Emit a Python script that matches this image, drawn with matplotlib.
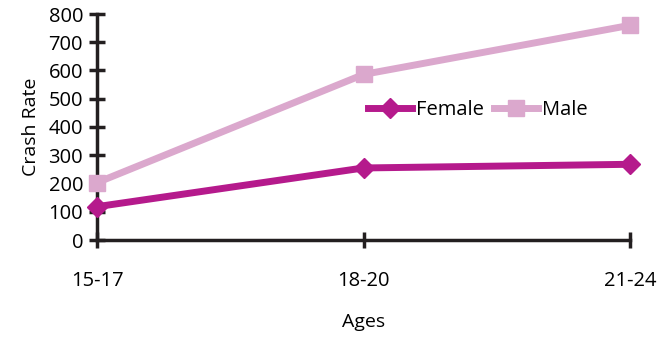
import matplotlib
matplotlib.use("Agg")
import matplotlib.pyplot as plt

ages = ["15-17", "18-20", "21-24"]
female = [118, 255, 268]
male = [203, 586, 760]
yticks = [0, 100, 200, 300, 400, 500, 600, 700, 800]

plt.rcParams['font.family'] = ['Open Sans', 'DejaVu Sans']

fig = plt.figure(figsize=(6.59, 3.43), dpi=100)
ax = fig.add_axes([97 / 659, 103 / 343, 533 / 659, 226 / 343])

x = list(range(len(ages)))
ax.plot(x, female, color="#B51A8C", lw=5, marker="D", ms=10, label="Female", clip_on=False, zorder=4)
ax.plot(x, male, color="#DBA8CD", lw=5, marker="s", ms=12, label="Male", clip_on=False, zorder=3)

ax.set_xlim(0, 2)
ax.set_ylim(0, 800)
ax.set_xticks(x)
ax.set_xticklabels(ages, fontsize=14.5)
ax.set_yticks(yticks)
ax.set_yticklabels([str(v) for v in yticks], fontsize=14.5)

for s in ["top", "right"]:
    ax.spines[s].set_visible(False)
for s in ["left", "bottom"]:
    ax.spines[s].set_linewidth(2.5)
    ax.spines[s].set_color("#231F20")
ax.tick_params(axis="both", direction="inout", length=12, width=2.5, color="#231F20")
ax.tick_params(axis="x", pad=16)
ax.tick_params(axis="y", pad=4)

ax.set_xlabel("Ages", fontsize=14, labelpad=16)
ax.set_ylabel("Crash Rate", fontsize=14, labelpad=6)

fig.legend(loc="center", bbox_to_anchor=(478 / 659, 1 - 110 / 343), ncol=2, frameon=False,
           fontsize=14.5, handlelength=2.2, handletextpad=0.2, columnspacing=0.5)

fig.savefig("out.png", dpi=100)
